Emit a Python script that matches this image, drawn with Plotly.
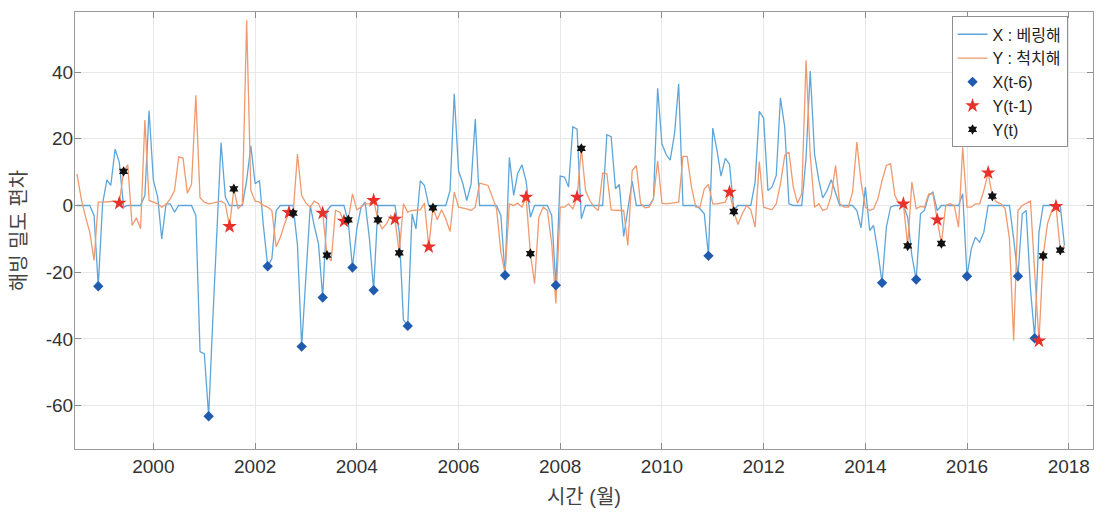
import pandas as pd
import plotly.graph_objects as go

start_month = "1998-07-01"

# X : Bering Sea ice density anomaly (monthly)
x_bering = [
    0, 0, 0, 0, -3, -24.2, 0.5, 7.7, 6, 16.9, 13, -0.5, 0, 0, 0, 0, 3, 28.4,
    7.5, 2.5, -10, 0.5, 0.5, -2, 0, 0, 0, 0, -3, -43.8, -44.5, -63.2, -36, -9, 18.9, 2.5,
    0, 0, 0, 0, 7.5, 17.9, 6.5, 7.5, -6, -18.2, -16, -1.5, 0, 0, 0, 0, -12, -42.3,
    -21, 0, -6, -11.5, -27.6, -1.5, 0, 0, 0, 0, -5, -18.6, -7, -0.5, 1, -10, -25.4, 0,
    0, 0, 0, 0, -8, -34.3, -36.1, -2.5, -7, 7.4, 6, 0, 0, 0, 0, 0, 4.5, 33.5,
    10.4, 6.5, 1.5, 6.5, 25.9, 0, 0, 0, 0, 0, -3, -20.9, 14.4, 3, 9.5, 12.2, 7.3, -3.5,
    0, 0, 0, 0, -3, -23.9, 8.8, 8.5, 5.5, 23.6, 22.9, -4, 0, 0, 0, 0, 0, 21.2,
    20.6, 5, 6.3, -9.3, -1, 7.3, 0, 0, 0, 0, 2, 35.1, 18.4, 15.2, 13.6, 21.4, 36.5, 0,
    0, 0, 0, -1, -2.5, -15.1, 23.2, 16.4, 8.8, 14.1, 12.4, -1.3, 0, 0, 0, 0, 7, 28.2,
    26.2, 4.5, 5.5, 9, 32.3, 23.4, 0.5, 0, 0, 0, 14.4, 40.3, 15.4, 7.5, 2.3, 4.5, 7.7, 3.5,
    0, 0, 0, 0, -1.5, -6.7, 5.5, -7.5, -6, -14, -23.2, -6.5, -0.5, 0, 0, 0, -3.5, -15,
    -22.2, -2.5, -1.5, 3, 4, -1.5, 0, 0, 0, 0, 0, 3.5, -21.2, -13, -9.5, -11, -8, 0,
    0, 0, 0, 0, 0, -10, -21.2, -2.5, -1.5, -25, -39.8, -8, 0, 0, 0, 0, 0, -12,
]

# Y : Chukchi Sea ice density anomaly (monthly)
y_chukchi = [
    9.5, 2, -3.5, -8, -16.5, 1, 1, 1, 1.2, 1.3, 0.7, 10.2, 12.2, -6, -3.7, -7, 25.6, 1.5,
    1, 0.5, -0.5, 0.3, 2, 4.5, 14.6, 14.2, 3.7, 6.3, 33, 2.3, 1, 0.5, 0.7, 1, 1.3, 0.5,
    -6.3, 5, -1, 0.5, 55.5, 4.5, 1.3, 1, 0, -0.5, -1.5, -12.4, -9.5, -5.5, -2.1, -2.3, 15.4, 3,
    0.7, -0.5, 1.3, 0.5, -2.3, -14.9, -16.6, -1.5, -2, -4.7, -4.3, 3.5, -1.3, -0.5, 0.5, 0.5, 1.5, -4.3,
    -7, -5.5, -3, -4.1, -14.2, 0.5, -2, -1.5, -1.5, -1.3, 0.7, -12.4, -0.7, -4.3, -1.3, -4, -7.8, 4,
    -0.5, -0.7, -1, -1.5, -0.5, 6.7, 6.3, 6, 2.5, -1, -14, -20.4, 0.5, 0, 0.7, -0.5, 2.5, -14.4,
    -23.4, -3.5, -0.5, -1.5, -11.4, -29.4, -0.5, -0.5, 0.5, -1, 2.5, 17.1, 4.5, 1.5, -0.5, -1.5, 9.7, 9.5,
    -1.3, -1.5, -1.5, -1.5, -12, 10.4, 12, 0.5, -0.7, -0.5, 2, 13.4, 0.7, 0.5, 0.7, 1, 1, 14.7,
    14.7, 5.5, -0.5, -0.5, 5, 6.3, 0.5, 0.5, 0.7, 1, 4, -1.8, -5.7, -2.5, 0, -1.3, -6.5, 13.2,
    -0.5, -1, -1.3, 0.5, 6.5, 15, 16, 5.5, 0.7, 3.5, 43.5, 15, -0.5, 0.5, -1.5, -1, 3, 12,
    0.5, -0.5, -0.5, 4, 19, 7, -0.5, -1.5, -1, 2, 7.5, 12, 12.5, 3, 0.5, 0.5, -12.1, 7,
    -1, -0.3, -0.5, 3.5, 3.5, -4.3, -11.4, 0, 0.5, 0, -6.5, 17.4, -0.5, -0.5, 0.5, 0.5, 4.5, 9.8,
    2.8, 1, 0.5, -1, -10, -40.5, -1.5, 0, 0.7, 1.3, -20, -40.6, -15.1, -5.5, -1.5, -0.3, -13.4, -12,
]

# event months
x_lag6_months = ["1998-12", "2001-02", "2002-04", "2002-12", "2003-05", "2003-12", "2004-05", "2005-01",
                 "2006-12", "2007-12", "2010-12", "2014-05", "2015-01", "2016-01", "2017-01", "2017-05"]
y_lag1_months = ["1999-05", "2001-07", "2002-09", "2003-05", "2003-10", "2004-05", "2004-10", "2005-06",
                 "2007-05", "2008-05", "2011-05", "2014-10", "2015-06", "2016-06", "2017-06", "2017-10"]
y_t_months = ["1999-06", "2001-08", "2002-10", "2003-06", "2003-11", "2004-06", "2004-11", "2005-07",
              "2007-06", "2008-06", "2011-06", "2014-11", "2015-07", "2016-07", "2017-07", "2017-11"]

y_tick_vals = [-60, -40, -20, 0, 20, 40]
y_tick_text = ["-60", "-40", "-20", "0", "20", "40"]
x_tick_years = ["2000", "2002", "2004", "2006", "2008", "2010", "2012", "2014", "2016", "2018"]

months = pd.date_range(start_month, periods=len(x_bering), freq="MS")
sx = pd.Series(x_bering, index=months.strftime("%Y-%m"))
sy = pd.Series(y_chukchi, index=months.strftime("%Y-%m"))

def to_dates(lst):
    return pd.to_datetime([m + "-01" for m in lst])

fig = go.Figure()
fig.add_trace(go.Scatter(x=months, y=x_bering, mode="lines", name="X : 베링해",
                         line=dict(color="#5ea6da", width=1.3)))
fig.add_trace(go.Scatter(x=months, y=y_chukchi, mode="lines", name="Y : 척치해",
                         line=dict(color="#ef9a6f", width=1.3)))
fig.add_trace(go.Scatter(x=to_dates(x_lag6_months), y=sx[x_lag6_months].values, mode="markers",
                         name="X(t-6)", marker=dict(symbol="diamond", size=8, color="#1f5cb0")))
fig.add_trace(go.Scatter(x=to_dates(y_lag1_months), y=sy[y_lag1_months].values, mode="markers",
                         name="Y(t-1)", marker=dict(symbol="star", size=11, color="#e8312b")))
fig.add_trace(go.Scatter(x=to_dates(y_t_months), y=sy[y_t_months].values, mode="markers",
                         name="Y(t)", marker=dict(symbol="hexagram", size=8, color="#111111")))

font_main = "Liberation Sans, Arial, Noto Sans CJK KR, sans-serif"
fig.update_layout(
    width=1114, height=525,
    margin=dict(l=67, r=29, t=4, b=84, autoexpand=False),
    paper_bgcolor="white", plot_bgcolor="white",
    font=dict(family=font_main, color="#333333", size=19),
    showlegend=True,
    legend=dict(x=0.975, y=0.99, xanchor="right", yanchor="top",
                bgcolor="white", bordercolor="#8f8f8f", borderwidth=1,
                font=dict(size=16, color="#222222"), tracegroupgap=0,
                itemwidth=30),
)
fig.update_xaxes(
    type="date", automargin=False,
    range=["1998-06-17", "2018-06-24"],
    tickvals=pd.to_datetime([y + "-01-01" for y in x_tick_years]),
    ticktext=x_tick_years,
    ticks="inside", ticklen=6, tickcolor="#8c8c8c",
    showline=True, linecolor="#9a9a9a", linewidth=1, mirror="ticks",
    showgrid=True, gridcolor="#e8e8e8", gridwidth=1,
    zeroline=False,
    title=dict(text="시간 (월)", font=dict(size=20, color="#444444"), standoff=14),
)
fig.update_yaxes(
    automargin=False,
    range=[-73, 58],
    tickvals=y_tick_vals, ticktext=y_tick_text,
    ticks="inside", ticklen=6, tickcolor="#8c8c8c", ticklabelstandoff=-3,
    showline=True, linecolor="#9a9a9a", linewidth=1, mirror="ticks",
    showgrid=True, gridcolor="#e8e8e8", gridwidth=1,
    zeroline=False,
    title=dict(text="해빙 밀도 편차", font=dict(size=20, color="#444444"), standoff=14),
)
fig.write_html("out.html")
